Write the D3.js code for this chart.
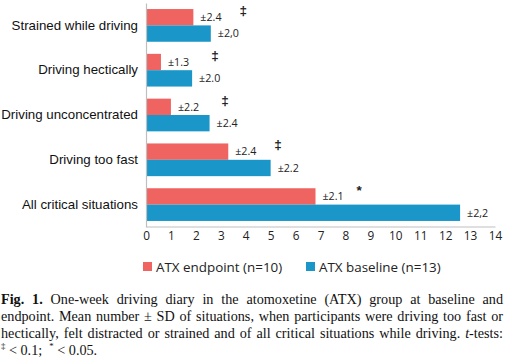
<!DOCTYPE html>
<html><head><meta charset="utf-8">
<script src="https://cdn.jsdelivr.net/npm/d3@7"></script>
<style>
html,body{margin:0;padding:0;background:#fff;}
svg{display:block;}
</style></head>
<body>
<svg id="chart" width="507" height="362"></svg>
<script>
// ---- data ----
const categories = ["Strained while driving","Driving hectically","Driving unconcentrated","Driving too fast","All critical situations"];
const endpointValues = [1.9, 0.6, 1.0, 3.3, 6.8];
const baselineValues = [2.6, 1.85, 2.55, 5.0, 12.6];
const endpointSD = ["±2.4","±1.3","±2.2","±2.4","±2.1"];
const baselineSD = ["±2,0","±2.0","±2.4","±2.2","±2,2"];
const sigMarks = ["‡","‡","‡","‡","*"];
const sigMarkX = [3.9, 2.77, 3.17, 5.3, 8.55];
const xTicks = d3.range(0, 15);
const seriesNames = ["ATX endpoint (n=10)","ATX baseline (n=13)"];
const colors = ["#EF6461","#1A96C8"];

const svg = d3.select("#chart");
const x = d3.scaleLinear().domain([0,14]).range([146,495]);
const y = d3.scaleBand().domain(categories).range([3,227]).paddingInner(0.27).paddingOuter(0.135);
const sub = d3.scaleBand().domain([0,1]).range([0,y.bandwidth()]);

const rows = categories.map((c,i)=>({c,i,vals:[endpointValues[i],baselineValues[i]],sds:[endpointSD[i],baselineSD[i]]}));

// bars
const g = svg.append("g");
rows.forEach(r=>{
  r.vals.forEach((v,k)=>{
    g.append("rect").attr("x",x(0)).attr("y",y(r.c)+sub(k))
      .attr("width",x(v)-x(0)).attr("height",sub.bandwidth()).attr("fill",colors[k]);
    g.append("text").attr("x",x(v)+7).attr("y",y(r.c)+sub(k)+sub.bandwidth()/2)
      .attr("dy","0.36em").attr("font-family","Open Sans").attr("font-size","10.7px")
      .attr("fill","#222").text(r.sds[k]);
  });
  g.append("text").attr("x",x(sigMarkX[r.i])).attr("y",y(r.c)+ (r.i===4?2:1))
    .attr("dy","0.36em").attr("text-anchor","middle")
    .attr("font-family","Liberation Sans").attr("font-weight","bold")
    .attr("font-size","13.5px").attr("fill","#222").text(sigMarks[r.i]);
});

// axes
const xAxis = svg.append("g").attr("transform","translate(0,226.5)")
  .call(d3.axisBottom(x).tickValues(xTicks).tickSize(0).tickPadding(5).tickFormat(d3.format("d")));
xAxis.select(".domain").attr("stroke","#BFBFBF").attr("stroke-width",1.2);
xAxis.selectAll("text").attr("font-family","Open Sans").attr("font-size","11.8px").attr("fill","#222");

const yAxis = svg.append("g").attr("transform","translate(146,0)")
  .call(d3.axisLeft(y).tickSize(0).tickPadding(8));
yAxis.select(".domain").attr("stroke","#BFBFBF").attr("stroke-width",1.2);
yAxis.selectAll("text").attr("font-family","Liberation Sans").attr("font-size","13.3px").attr("fill","#111");

// legend
const legX = [143, 306];
seriesNames.forEach((n,k)=>{
  svg.append("rect").attr("x",legX[k]).attr("y",262).attr("width",9).attr("height",9).attr("fill",colors[k]);
  svg.append("text").attr("x",legX[k]+13).attr("y",266.7).attr("dy","0.36em")
    .attr("font-family","Open Sans").attr("font-size","13.4px").attr("fill","#222").text(n);
});

// caption
const capFont = "Liberation Serif";
const capSize = 14.2;
const lines = [
  [{t:"Fig. 1.",w:"bold"},{t:" One-week driving diary in the atomoxetine (ATX) group at baseline and"}],
  [{t:"endpoint. Mean number ± SD of situations, when participants were driving too fast or"}],
  [{t:"hectically, felt distracted or strained and of all critical situations while driving. "},{t:"t",s:"italic"},{t:"-tests:"}],
  [{t:"‡",sup:true},{t:" < 0.1;  "},{t:"*",sup:true},{t:" < 0.05."}]
];
const baselines = [304, 321, 338, 354.5];
const left = 1, right = 503;
lines.forEach((ln,li)=>{
  const t = svg.append("text").attr("x",left).attr("y",baselines[li])
    .attr("font-family",capFont).attr("font-size",capSize+"px").attr("fill","#111")
    .attr("xml:space","preserve").style("white-space","pre");
  ln.forEach((p,pi)=>{
    const ts = t.append("tspan").text(p.t);
    if(p.w) ts.attr("font-weight",p.w);
    if(p.s) ts.attr("font-style",p.s);
    if(p.sup) ts.attr("font-size",(capSize*0.62)+"px").attr("dy",(-capSize*0.4)+"px");
    else if(pi>0 && ln[pi-1].sup) ts.attr("dy",(capSize*0.4)+"px");
  });
  if(li<3){
    const w = t.node().getComputedTextLength();
    const text = ln.map(p=>p.t).join("").trim();
    const spaces = (text.match(/ /g)||[]).length;
    const ws = (right-left - w)/spaces;
    t.style("word-spacing", ws+"px");
  }
});
</script>
</body></html>
